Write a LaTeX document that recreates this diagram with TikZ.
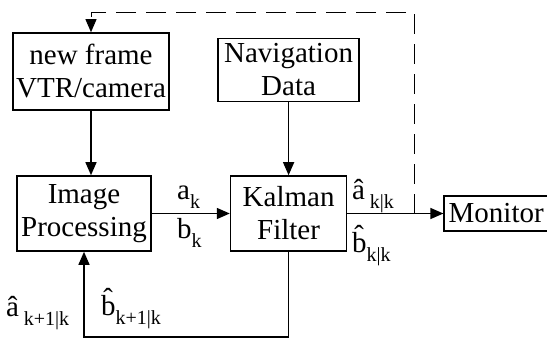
\documentclass[tikz,border=0pt]{standalone}
\usepackage{fontspec}
\setmainfont{Liberation Serif}
\usetikzlibrary{positioning, arrows.meta}
\newcommand\lowsub[1]{\raisebox{-9pt}{\fontsize{20}{20}\selectfont #1}}

\begin{document}
\begin{tikzpicture}[x=1pt, y=-1pt, font=\fontsize{29}{33}\selectfont, >={Triangle[length=13pt, width=11pt]},
  blk/.style={draw, line width=1.6pt, align=center, inner sep=0pt},
  lnk/.style={->, line width=1.4pt},
  fb/.style={->, line width=0.9pt, dash pattern=on 20pt off 10pt},
  lbl/.style={anchor=base west, inner sep=0pt}]
  \useasboundingbox (0,0) rectangle (547,338);
  \node[blk, minimum width=156pt, minimum height=77pt] (cam) at (91,71.5) {new frame\\VTR/camera};
  \node[blk, minimum width=134pt, minimum height=75pt] (ip) at (84,213.5) {Image\\Processing};
  \node[blk, minimum width=116pt, minimum height=75pt, right=78pt of ip] (kf) {Kalman\\Filter};
  \node[blk, minimum width=141pt, minimum height=63pt, above=73pt of kf] (nav) {Navigation\\Data};
  \node[blk, minimum width=104pt, minimum height=35pt, right=96pt of kf] (mon) {Monitor};
  \path (kf.east) -- (mon.west) coordinate[pos=0.7] (tap);
  \coordinate (top) at (0,12);
  % signal flow
  \draw[lnk] (cam.south) -- (cam.south |- ip.north);
  \draw[lnk] (nav) -- (kf);
  \draw[lnk] (ip) -- (kf);
  \draw[lnk] (kf) -- (mon);
  \draw[lnk] (kf.south) -- ++(0,85) -| (ip.south);
  % next frame request
  \draw[fb] (tap) -- (tap |- top) -| (cam.north);
  % estimates
  \node[lbl] (ak) at (177,199) {a\lowsub{k}};
  \node[lbl] (bk) at (177,238) {b\lowsub{k}};
  \node[lbl] (akk) at (352,199) {â\,\lowsub{k|k}};
  \node[lbl] (bkk) at (352,252) {b̂\lowsub{k|k}};
  \node[lbl] (ak1) at (6,316) {â\,\lowsub{k+1|k}};
  \node[lbl] (bk1) at (101,315) {b̂\lowsub{k+1|k}};
\end{tikzpicture}
\end{document}
